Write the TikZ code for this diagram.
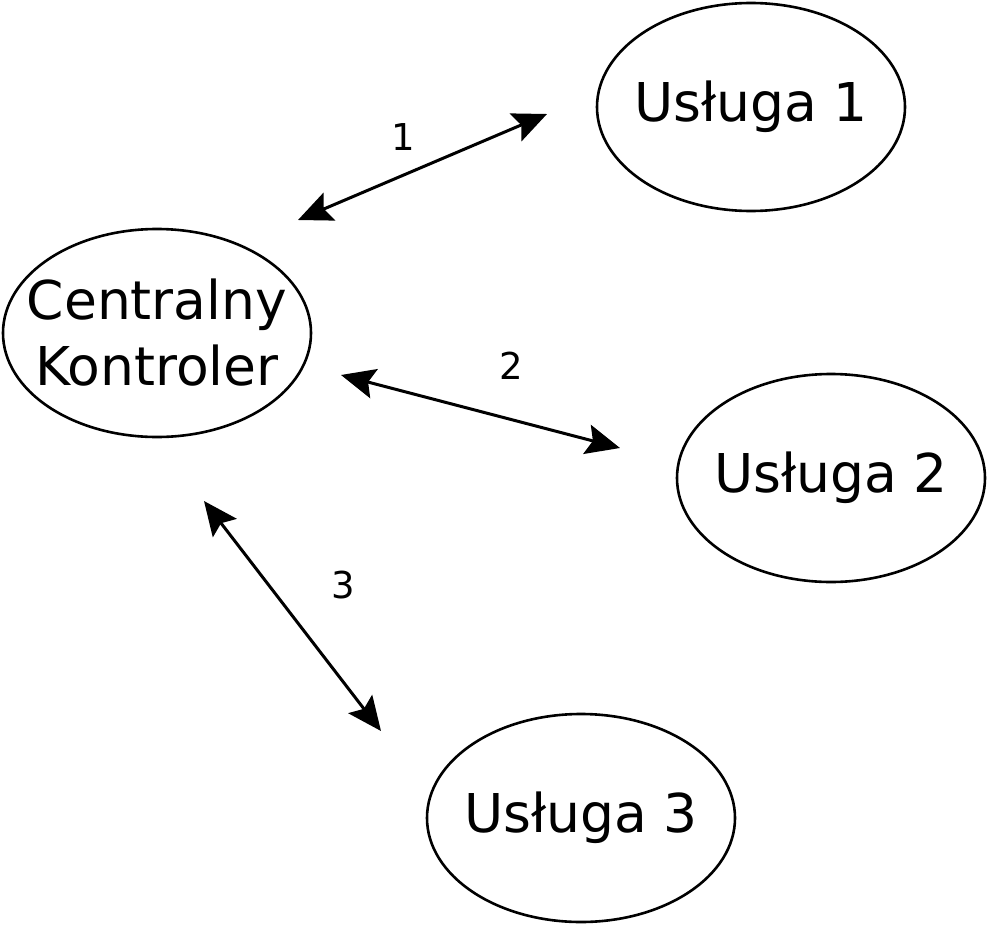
\documentclass[tikz,border=0pt]{standalone}
\usepackage{fontspec}
\setmainfont{DejaVu Sans}
\usetikzlibrary{arrows.meta,shapes.geometric}
\begin{document}
\begin{tikzpicture}[x=1pt,y=-1pt,
  svc/.style={draw=black,line width=2.6pt,ellipse,minimum width=308pt,minimum height=208pt,inner xsep=-40pt,inner ysep=-20pt,font=\fontsize{53.5}{66}\selectfont,align=center},
  link/.style={line width=3pt,{Stealth[length=34pt,width=30pt,inset=6pt]}-{Stealth[length=34pt,width=30pt,inset=6pt]}},
  lbl/.style={font=\fontsize{37}{42}\selectfont}]
\useasboundingbox (0,0) rectangle (988,926);
\node[svc] (cent) at (157,333) {Centralny\\Kontroler};
\node[svc] (u1) at (751,107) {Usługa 1};
\node[svc] (u2) at (831,478) {Usługa 2};
\node[svc] (u3) at (581,818) {Usługa 3};
\coordinate (a1) at (298,220); \coordinate (b1) at (547,114);
\coordinate (a2) at (341,375); \coordinate (b2) at (620,448);
\coordinate (a3) at (204,501); \coordinate (b3) at (381,731);
\draw[link] (a1) -- (b1);
\draw[link] (a2) -- (b2);
\draw[link] (a3) -- (b3);
\node[lbl] (l1) at (403,137) {1};
\node[lbl] (l2) at (511,366) {2};
\node[lbl] (l3) at (343,585) {3};
\end{tikzpicture}
\end{document}
